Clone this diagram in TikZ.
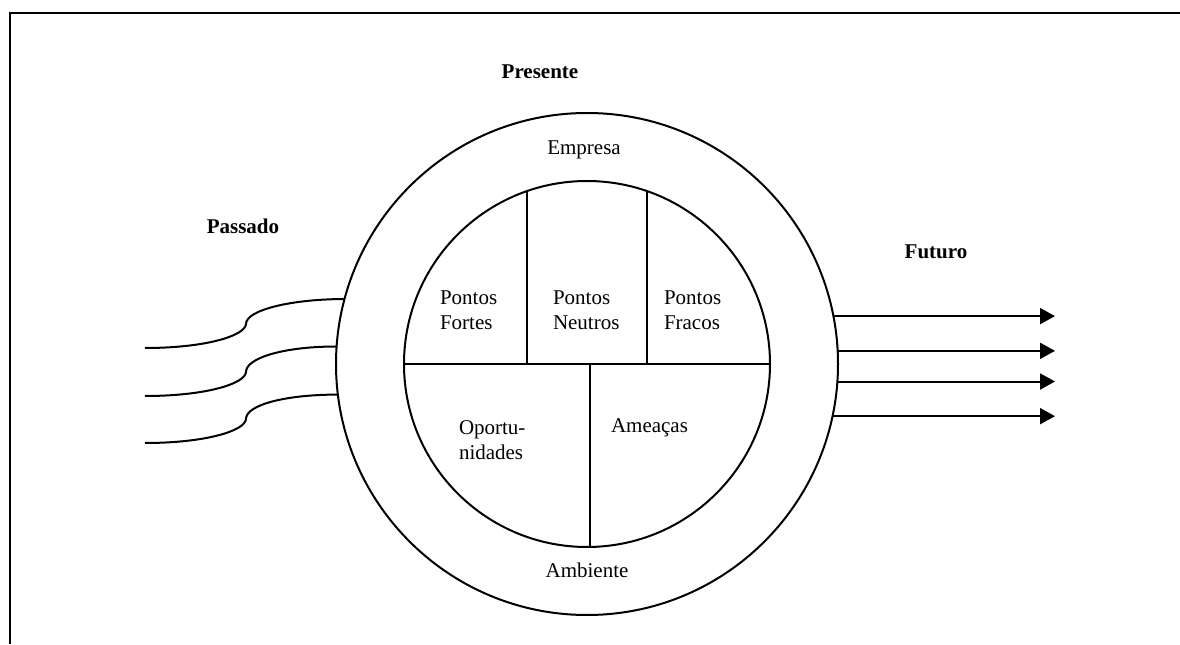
\documentclass[tikz,border=0pt]{standalone}
\usepackage{fontspec}
\setmainfont{Liberation Serif}
\usetikzlibrary{arrows.meta}
\usetikzlibrary{calc}

\begin{document}
\begin{tikzpicture}[x=0.5pt, y=0.5pt, line width=1pt,
  every node/.style={font=\fontsize{10.5}{12.5}\selectfont, inner sep=0pt},
  celltext/.style={align=left, anchor=west},
  ring/.style={circle, draw, outer sep=0pt}]
\useasboundingbox (0,0) rectangle (1180,644);
\coordinate (O) at (587,280);
\coordinate (tip) at (1055,0);
\coordinate (T1) at (145,296);
\coordinate (T2) at (145,248);
\coordinate (T3) at (145,201);

\draw[line width=1.4pt] (1180,631) -- (10,631) -- (10,0); % frame

\node[ring, minimum size=251pt] (outer) at (O) {};
\node[ring, minimum size=183pt] (inner) at (O) {};
%
\draw (inner.west) -- (inner.east);
\draw (inner.109.1) -- (inner.109.1 |- O);
\draw (inner.71.9) -- (inner.71.9 |- O);
\draw (inner.271.9) -- (inner.271.9 |- O);
%
\foreach \a in {11.3,3.7,356.1,348.5}
  \draw[-{Triangle[length=7.5pt,width=8pt]}] (outer.\a) -- (outer.\a -| tip);
%
\foreach \s/\a in {T1/165.5, T2/176.4, T3/187.3}
  \draw (\s) .. controls +(60,0) and +(-1,-12) .. ++(101,24)
             .. controls +(0,14) and +(-53,0) .. (outer.\a);
%
\node (presente) at (540,572) {\textbf{Presente}};
\node (passado) at (243,418) {\textbf{Passado}};
\node (futuro) at (936,392) {\textbf{Futuro}};
\node (empresa) at (584,494) {Empresa};
\node (ambiente) at (587,74) {Ambiente};
\node[celltext] (fortes) at (439,333.5) {Pontos\\Fortes};
\node[celltext] (neutros) at (552,333.5) {Pontos\\Neutros};
\node[celltext] (fracos) at (663,333.5) {Pontos\\Fracos};
\node[celltext] (oport) at (458,203.5) {Oportu-\\nidades};
\node[celltext] (ameacas) at (610,216) {Ameaças};
\end{tikzpicture}
\end{document}
